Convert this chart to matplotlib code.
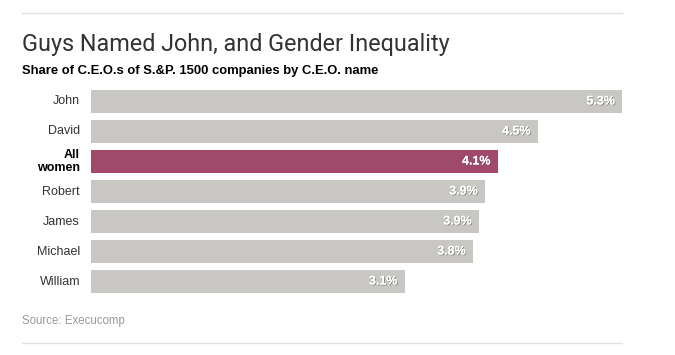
import matplotlib.pyplot as plt
import matplotlib.patheffects as pe
from matplotlib.lines import Line2D

# donnees
noms = ['John', 'David', 'All\nwomen', 'Robert', 'James', 'Michael', 'William']
parts = [5.3, 4.46, 4.06, 3.93, 3.87, 3.81, 3.13]
couleurs = ['#c8c7c3', '#c8c7c3', '#a0496b', '#c8c7c3', '#c8c7c3', '#c8c7c3', '#c8c7c3']

W, H = 675, 355
fig = plt.figure(figsize=(W / 100, H / 100), dpi=100)
ax = fig.add_axes([91 / W, 1 - 293 / H, 531 / W, 203 / H])

pos = list(range(len(noms)))
ax.barh(pos, parts, height=23 / 30, color=couleurs)
ax.set_xlim(0, max(parts))
ax.set_ylim(len(noms) - 1 + 0.383, -0.383)
ax.axis('off')

ombre = [pe.withSimplePatchShadow(offset=(0.6, -0.6), shadow_rgbFace='#555555', alpha=0.6), pe.Normal()]
for i, (nom, v) in enumerate(zip(noms, parts)):
    femme = 'women' in nom
    ax.text(-11 / 531 * max(parts), i, nom, ha='right', va='center',
            fontsize=9, color='black' if femme else '#333333',
            fontweight='bold' if femme else 'normal', linespacing=1.15,
            family='Liberation Sans')
    ax.text(v - 7 / 531 * max(parts), i, f"{v:.1f}%", ha='right', va='center',
            fontsize=9, color='white', fontweight='bold',
            family='Liberation Sans', path_effects=ombre)

# titres, source et filets
fig.text(22 / W, 1 - 44 / H, 'Guys Named John, and Gender Inequality', fontsize=16.8,
         fontweight='normal', family='Roboto', color='#333333', va='center')
fig.text(22 / W, 1 - 71 / H, 'Share of C.E.O.s of S.&P. 1500 companies by C.E.O. name',
         fontsize=9.4, fontweight='bold', family='Liberation Sans', color='black', va='center')
fig.text(22 / W, 1 - 321 / H, 'Source: Execucomp', fontsize=8.3, color='#999999',
         family='Liberation Sans', va='center')
for y in (13, 343):
    fig.add_artist(Line2D([22 / W, 622 / W], [1 - y / H, 1 - y / H], color='#e2e2e2', lw=1))

fig.savefig('out.png', dpi=100)
